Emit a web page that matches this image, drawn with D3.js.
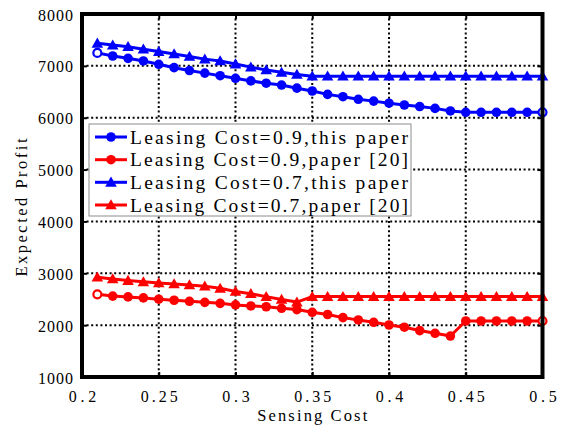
<!DOCTYPE html>
<html>
<head>
<meta charset="utf-8">
<script src="https://cdn.jsdelivr.net/npm/d3@7"></script>
<style>
html,body{margin:0;padding:0;background:#fff;}
svg{display:block;}
text{font-family:"Liberation Serif",serif;fill:#000;}
</style>
</head>
<body>
<svg id="chart" width="565" height="427"></svg>
<script>
// ---- data ----
const sensingCost = [0.21,0.22,0.23,0.24,0.25,0.26,0.27,0.28,0.29,0.30,
                     0.31,0.32,0.33,0.34,0.35,0.36,0.37,0.38,0.39,0.40,
                     0.41,0.42,0.43,0.44,0.45,0.46,0.47,0.48,0.49,0.50];
const lc09ThisPaper = [7250,7190,7145,7095,7030,6965,6910,6860,6810,6760,
                       6710,6665,6630,6570,6515,6450,6405,6355,6320,6280,
                       6245,6215,6180,6130,6105,6105,6105,6105,6105,6105];
const lc09Paper20   = [2595,2560,2545,2525,2500,2480,2460,2440,2420,2390,
                       2370,2355,2325,2300,2248,2205,2145,2100,2055,2003,
                       1960,1895,1843,1790,2080,2080,2080,2080,2080,2080];
const lc07ThisPaper = [7435,7400,7370,7320,7275,7230,7180,7130,7095,7035,
                       6975,6920,6875,6835,6800,6800,6800,6800,6800,6800,
                       6800,6800,6800,6800,6800,6800,6800,6800,6800,6800];
const lc07Paper20   = [2925,2890,2860,2835,2815,2795,2775,2750,2710,2650,
                       2605,2550,2495,2445,2550,2550,2550,2550,2550,2550,
                       2550,2550,2550,2550,2550,2550,2550,2550,2550,2550];
const seriesNames = ["Leasing Cost=0.9,this paper","Leasing Cost=0.9,paper [20]",
                     "Leasing Cost=0.7,this paper","Leasing Cost=0.7,paper [20]"];
const xTicks = [0.2,0.25,0.3,0.35,0.4,0.45,0.5];
const xTickLabels = ["0.2","0.25","0.3","0.35","0.4","0.45","0.5"];
const yTicks = [1000,2000,3000,4000,5000,6000,7000,8000];
const xLabel = "Sensing Cost";
const yLabel = "Expected Profit";

// ---- layout ----
const L = 82, R = 542.5, T = 14, B = 377;
const svg = d3.select("#chart");
const x = d3.scaleLinear().domain([0.2,0.5]).range([L,R]);
const y = d3.scaleLinear().domain([1000,8000]).range([B,T]);

const series = [
  {name:seriesNames[0], values:lc09ThisPaper, color:"#0000ff", marker:"circle"},
  {name:seriesNames[1], values:lc09Paper20,   color:"#ff0000", marker:"circle"},
  {name:seriesNames[2], values:lc07ThisPaper, color:"#0000ff", marker:"triangle"},
  {name:seriesNames[3], values:lc07Paper20,   color:"#ff0000", marker:"triangle"}
];

// ---- grid ----
const grid = svg.append("g");
grid.selectAll("line.gx").data(xTicks.slice(1,-1)).join("line")
  .attr("x1",d=>x(d)).attr("x2",d=>x(d)).attr("y1",T).attr("y2",B)
  .attr("stroke","#000").attr("stroke-width",2).attr("stroke-dasharray","2,2.6");
grid.selectAll("line.gy").data(yTicks.slice(1,-1)).join("line")
  .attr("x1",L).attr("x2",R).attr("y1",d=>y(d)).attr("y2",d=>y(d))
  .attr("stroke","#000").attr("stroke-width",2).attr("stroke-dasharray","2,2.6");

// ---- axes (inward ticks) ----
const xAxis = svg.append("g").attr("transform",`translate(0,${B})`)
  .call(d3.axisBottom(x).tickValues(xTicks).tickSize(-5).tickPadding(14)
        .tickFormat((d,i)=>xTickLabels[i]));
const xAxisTop = svg.append("g").attr("transform",`translate(0,${T})`)
  .call(d3.axisTop(x).tickValues(xTicks).tickSize(-5).tickFormat(""));
const yAxis = svg.append("g").attr("transform",`translate(${L},0)`)
  .call(d3.axisLeft(y).tickValues(yTicks).tickSize(-5).tickPadding(9).tickFormat(d3.format("d")));
const yAxisRight = svg.append("g").attr("transform",`translate(${R},0)`)
  .call(d3.axisRight(y).tickValues(yTicks).tickSize(-5).tickFormat(""));
[xAxis,xAxisTop,yAxis,yAxisRight].forEach(g=>{
  g.select(".domain").remove();
  g.selectAll(".tick line").attr("stroke","#000").attr("stroke-width",2);
  g.selectAll("text").attr("font-family","Liberation Serif").attr("font-size",16).attr("fill","#000")
    .attr("lengthAdjust","spacing");
});
xAxis.selectAll("text").attr("textLength",function(){return 9.2*this.textContent.length;});
yAxis.selectAll("text").attr("dy","0.38em").attr("textLength",35);

// ---- series ----
const line = d3.line().x((d,i)=>x(sensingCost[i])).y(d=>y(d));
const triSym = d3.symbol().type(d3.symbolTriangle).size(58);
function drawMarkers(g, s, pts){
  if(s.marker==="circle"){
    g.selectAll("circle").data(pts).join("circle")
      .attr("cx",d=>d[0]).attr("cy",d=>d[1]).attr("r",d=>d[2]?4:4.8)
      .attr("fill",d=>d[2]?"#fff":s.color)
      .attr("stroke",s.color).attr("stroke-width",d=>d[2]?2.2:0);
  } else {
    g.selectAll("path.m").data(pts).join("path").attr("class","m")
      .attr("d",triSym()).attr("transform",d=>`translate(${d[0]},${d[1]+1})`)
      .attr("fill",s.color);
  }
}
series.forEach(s=>{
  const g = svg.append("g");
  g.append("path").datum(s.values).attr("d",line)
    .attr("fill","none").attr("stroke",s.color).attr("stroke-width",3)
    .attr("stroke-linejoin","round");
  const n = s.values.length;
  drawMarkers(g, s, s.values.map((v,i)=>[x(sensingCost[i]), y(v), s.marker==="circle" && (i===0||i===n-1)]));
});

// ---- legend ----
const leg = svg.append("g");
leg.append("rect").attr("x",89).attr("y",124).attr("width",322).attr("height",92)
  .attr("fill","#fff").attr("stroke","#8c8c8c").attr("stroke-width",1);
const rowY = [137,159.7,182.3,205];
series.forEach((s,i)=>{
  const g = leg.append("g");
  g.append("line").attr("x1",95).attr("x2",127).attr("y1",rowY[i]).attr("y2",rowY[i])
    .attr("stroke",s.color).attr("stroke-width",3);
  drawMarkers(g, s, [[111,rowY[i],false]]);
  g.append("text").attr("x",130).attr("y",rowY[i]+6.5)
    .attr("font-size",19.5).attr("textLength",278).attr("lengthAdjust","spacing")
    .text(s.name);
});

// ---- frame ----
svg.append("rect").attr("x",L).attr("y",T).attr("width",R-L).attr("height",B-T)
  .attr("fill","none").attr("stroke","#000").attr("stroke-width",4);

// ---- axis titles ----
svg.append("text").attr("x",(L+R)/2).attr("y",420.5).attr("text-anchor","middle")
  .attr("font-size",16.5).attr("textLength",110).attr("lengthAdjust","spacing").text(xLabel);
svg.append("text").attr("transform","translate(26.5,207.5) rotate(-90)").attr("text-anchor","middle")
  .attr("font-size",16.5).attr("textLength",138).attr("lengthAdjust","spacing").text(yLabel);
</script>
</body>
</html>
